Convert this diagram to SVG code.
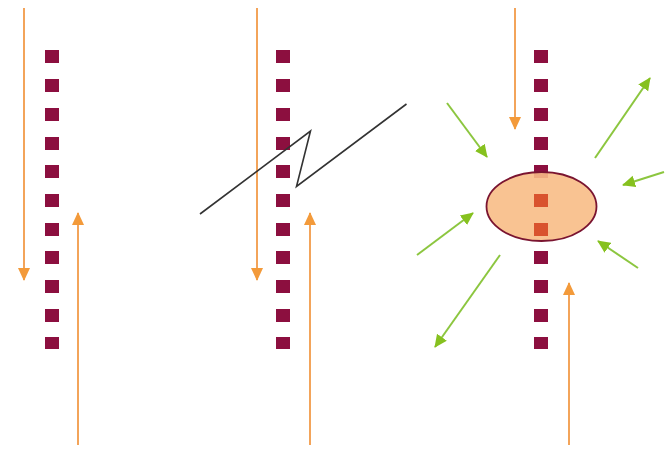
<svg xmlns="http://www.w3.org/2000/svg" width="666" height="449" viewBox="0 0 666 449">
<style>
.bg{fill:#ffffff}
.sq{fill:#8c0f3f}
.sqin{fill:#d9532e}
.or{stroke:#f3a45a;stroke-width:2;fill:none}
.gr{stroke:#8cc63f;stroke-width:2;fill:none}
.zig{stroke:#333333;stroke-width:1.6;fill:none;stroke-linejoin:miter}
.cell{fill:#f8bd86;fill-opacity:0.9;stroke:#7a1430;stroke-width:1.8}
</style>
<defs>
<marker id="ao" markerUnits="userSpaceOnUse" markerWidth="14" markerHeight="14" viewBox="0 0 14 14" refX="12" refY="7" orient="auto">
<path d="M0,1 L13,7 L0,13 Z" fill="#f39a3a"/>
</marker>
<marker id="ag" markerUnits="userSpaceOnUse" markerWidth="14" markerHeight="14" viewBox="0 0 14 14" refX="12" refY="7" orient="auto">
<path d="M0,1 L13,7 L0,13 Z" fill="#86c11f"/>
</marker>
<g id="col">
<rect class="sq" x="-7" y="50" width="14" height="13"/>
<rect class="sq" x="-7" y="79" width="14" height="13"/>
<rect class="sq" x="-7" y="108" width="14" height="13"/>
<rect class="sq" x="-7" y="137" width="14" height="13"/>
<rect class="sq" x="-7" y="165" width="14" height="13"/>
<rect class="sq" x="-7" y="194" width="14" height="13"/>
<rect class="sq" x="-7" y="223" width="14" height="13"/>
<rect class="sq" x="-7" y="251" width="14" height="13"/>
<rect class="sq" x="-7" y="280" width="14" height="13"/>
<rect class="sq" x="-7" y="309" width="14" height="13"/>
<rect class="sq" x="-7" y="337" width="14" height="12"/>
</g>
</defs>
<rect class="bg" x="0" y="0" width="666" height="449"/>
<g id="panel1">
<use href="#col" x="52" y="0"/>
</g>
<g id="panel2">
<use href="#col" x="283" y="0"/>
</g>
<g id="panel3">
<use href="#col" x="541" y="0"/>
<ellipse id="cell" class="cell" cx="541.5" cy="206.5" rx="55" ry="34.5"/>
<rect class="sqin" x="534" y="194" width="14" height="13"/>
<rect class="sqin" x="534" y="223" width="14" height="13"/>
</g>
<g id="connectors">
<line class="or" x1="24" y1="8" x2="24" y2="280" marker-end="url(#ao)"/>
<line class="or" x1="78" y1="445" x2="78" y2="213" marker-end="url(#ao)"/>
<line class="or" x1="257" y1="8" x2="257" y2="280" marker-end="url(#ao)"/>
<line class="or" x1="310" y1="445" x2="310" y2="213" marker-end="url(#ao)"/>
<line class="or" x1="515" y1="8" x2="515" y2="129" marker-end="url(#ao)"/>
<line class="or" x1="569" y1="445" x2="569" y2="283" marker-end="url(#ao)"/>
<polyline class="zig" points="200,214 310.5,131 296.5,186.5 406.5,104"/>
<line class="gr" x1="447" y1="103" x2="487" y2="157" marker-end="url(#ag)"/>
<line class="gr" x1="595" y1="158" x2="650" y2="78" marker-end="url(#ag)"/>
<line class="gr" x1="664" y1="172" x2="623" y2="185" marker-end="url(#ag)"/>
<line class="gr" x1="417" y1="255" x2="473" y2="213" marker-end="url(#ag)"/>
<line class="gr" x1="638" y1="268" x2="598" y2="241" marker-end="url(#ag)"/>
<line class="gr" x1="500" y1="255" x2="435" y2="347" marker-end="url(#ag)"/>
</g>
</svg>
